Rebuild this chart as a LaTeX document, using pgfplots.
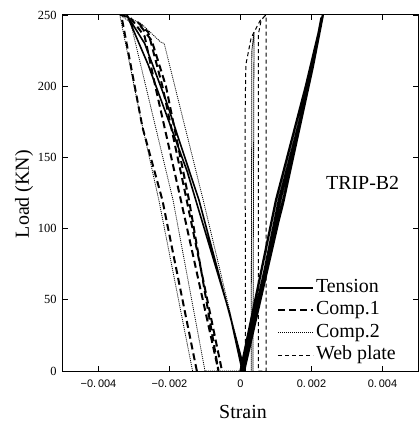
\documentclass[border=0pt]{standalone}
\usepackage{fontspec}
\setmainfont{Liberation Serif}
\newfontfamily\sansf{Liberation Sans}
\usepackage{pgfplots}
\pgfplotsset{compat=1.18}
\begin{document}
\begin{tikzpicture}
\begin{axis}[
 scale only axis, width=355bp, height=356bp,
 xmin=-0.005, xmax=0.005, ymin=0, ymax=250,
 xtick={-0.004,-0.002,0,0.002,0.004},
 xticklabels={−0.\,004,−0.\,002,0,0.\,002,0.\,004},
 ytick={0,50,100,150,200,250},
 tick align=inside, major tick length=5bp,
 tick style={line width=0.8bp, black},
 axis line style={line width=1bp},
 xticklabel style={font=\sansf\fontsize{11}{13}\selectfont, yshift=-5bp},
 yticklabel style={font=\fontsize{12.5}{14}\selectfont, xshift=-3bp},
 /pgf/number format/assume math mode=true,
 scaled x ticks=false,
 xlabel={Strain}, ylabel={Load (KN)},
 label style={font=\fontsize{20}{22}\selectfont},
 xlabel style={at={(axis description cs:0.507,-0.1152)}, anchor=center},
 ylabel style={at={(axis description cs:-0.1099,0.497)}, anchor=center},
 legend style={at={(axis description cs:0.603,0.265)}, anchor=north west, draw=none, fill=none,
   font=\fontsize{20}{22}\selectfont, inner sep=0pt, row sep=0.5bp,
   nodes={inner sep=1.5bp, text height=14bp, text depth=5bp}},
 legend cell align=left,
 legend image code/.code={\draw[#1] (0bp,0bp) -- (35bp,0bp);},
 clip=true,
]
% Tension (right family)
\addplot[black, line width=2.3bp, line join=round] coordinates {
(0,0)(0.00100,120)(0.00184,200)(0.00232,250)(0.00200,212)(0.00128,128)(0.0001,0)
(0.00108,120)(0.00190,198)(0.00228,248)(0.00198,208)(0.00124,124)(0.00004,0)
(0.00114,122)(0.00195,205)(0.00232,250)(0.00204,214)(0.00120,118)(0,0)};
\addlegendentry{Tension}
% Comp.1
\addplot[black, line width=2bp, dash pattern=on 7bp off 4bp] coordinates {
(-0.00123,0)(-0.0022,120)(-0.00276,171)(-0.00336,250)(-0.0031,248)(-0.0027,235)
(-0.0024,200)(-0.00168,120)(-0.00062,0)(-0.00145,120)(-0.0021,200)(-0.0025,232)
(-0.0029,245)(-0.0026,238)(-0.0022,200)(-0.0016,130)(-0.00052,0)};
\addlegendentry{Comp.1}
% Comp.2
\addplot[black, line width=0.8bp, dash pattern=on 1bp off 1bp] coordinates {
(-0.00135,0)(-0.0023,120)(-0.0028,176)(-0.0034,250)(-0.0031,245)(-0.0019,120)
(-0.0010,0)(0.0001,0)(-0.00105,120)(-0.00155,170)(-0.00215,230)(-0.00225,231)
(-0.0028,244)(-0.0033,250)};
\addlegendentry{Comp.2}
% Web plate
\addplot[black, line width=1bp, dash pattern=on 4bp off 3bp] coordinates {
(0.00014,0)(0.00013,180)(0.00015,215)(0.0003,234)(0.00055,246)(0.00072,250)
(0.00072,0)(0.0005,0)(0.0005,236)(0.00058,246)(0.0007,250)};
\addlegendentry{Web plate}
% Tension (left family)
\addplot[black, line width=1.6bp, forget plot] coordinates {
(0.00012,0)(-0.00117,120)(-0.0021,190)(-0.0027,230)(-0.0032,250)(-0.0026,215)
(-0.0015,140)(-0.0003,40)(0.00005,0)};
% Comp.2 near-vertical line
\addplot[black, line width=0.8bp, dash pattern=on 1.5bp off 0.5bp, forget plot] coordinates {
(0.00035,0)(0.00038,238)(0.00032,225)(0.0003,0)};
\node[font=\fontsize{20}{22}\selectfont] at (axis cs:0.00344,132) {TRIP-B2};
\end{axis}
\pgfresetboundingbox
\useasboundingbox (-63bp,-57bp) rectangle (355.5bp,371bp);
\end{tikzpicture}
\end{document}
